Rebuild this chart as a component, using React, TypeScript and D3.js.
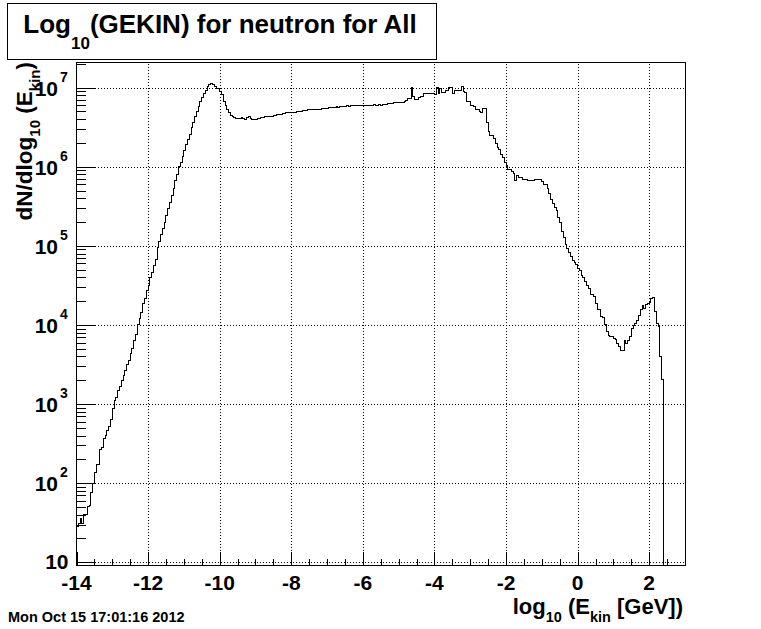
import React from 'react';
import * as d3 from 'd3';

const W = 761;
const H = 629;

// axis ranges
const xDomain: [number, number] = [-14, 3];
const yDomain: [number, number] = [9.1, 2.08e7];

// histogram binning
const binStart = -14;
const binWidth = 0.05;

// log10 of bin contents, bins of 0.05 starting at -14
const log10Counts = [
  1.45, 1.49, 1.55, 1.49, 1.61, 1.61, 1.71, 1.72, 1.88, 2.00, 2.13, 2.23, 2.23, 2.43, 2.45, 2.57, 2.60, 2.66, 2.72, 2.80,
  2.95, 3.04, 3.08, 3.17, 3.22, 3.30, 3.36, 3.43, 3.50, 3.55, 3.64, 3.70, 3.80, 3.88, 4.00, 4.08, 4.16, 4.27, 4.33, 4.44,
  4.50, 4.60, 4.66, 4.75, 4.83, 4.98, 5.05, 5.14, 5.22, 5.30, 5.38, 5.47, 5.55, 5.64, 5.72, 5.82, 5.90, 6.00, 6.06, 6.13,
  6.21, 6.28, 6.34, 6.41, 6.49, 6.56, 6.63, 6.70, 6.76, 6.82, 6.88, 6.92, 6.96, 7.01, 7.04, 7.05, 7.04, 7.02, 6.99, 6.99,
  6.95, 6.91, 6.83, 6.77, 6.73, 6.69, 6.65, 6.63, 6.62, 6.61, 6.61, 6.61, 6.62, 6.61, 6.60, 6.62, 6.63, 6.61, 6.60, 6.60,
  6.60, 6.61, 6.61, 6.62, 6.62, 6.63, 6.63, 6.63, 6.64, 6.64, 6.65, 6.65, 6.66, 6.66, 6.66, 6.67, 6.67, 6.68, 6.68, 6.68,
  6.69, 6.69, 6.69, 6.70, 6.70, 6.70, 6.71, 6.71, 6.71, 6.72, 6.72, 6.72, 6.72, 6.73, 6.73, 6.73, 6.73, 6.74, 6.74, 6.74,
  6.74, 6.75, 6.75, 6.75, 6.75, 6.76, 6.75, 6.76, 6.76, 6.76, 6.76, 6.77, 6.76, 6.77, 6.77, 6.77, 6.77, 6.77, 6.78, 6.77,
  6.78, 6.78, 6.78, 6.78, 6.78, 6.78, 6.79, 6.78, 6.78, 6.79,
  6.78, 6.79, 6.79, 6.79, 6.80, 6.80, 6.80, 6.81, 6.81, 6.81,
  6.81, 6.81, 6.81, 6.82, 6.84, 6.86, 6.86, 7.00, 6.89, 6.85,
  6.85, 6.88, 6.89, 6.89, 6.92, 6.92, 6.92, 6.93, 6.93, 6.93,
  6.91, 7.00, 6.93, 6.99, 6.94, 6.94, 6.97, 6.96, 7.00, 7.00,
  6.93, 6.97, 6.96, 6.96, 6.97, 7.02, 6.95, 6.94, 6.82, 6.82,
  6.78, 6.77, 6.76, 6.72, 6.72, 6.70, 6.69, 6.74, 6.74, 6.56,
  6.45, 6.40, 6.39, 6.36, 6.30, 6.24, 6.22, 6.16, 6.12, 6.06,
  6.02, 5.97, 5.96, 5.94, 5.92, 5.83, 5.89, 5.86, 5.86, 5.84,
  5.84, 5.84, 5.83, 5.83, 5.83, 5.83, 5.84, 5.84, 5.84, 5.84,
  5.81, 5.78, 5.78, 5.73, 5.66, 5.58, 5.53, 5.49, 5.45, 5.36,
  5.30, 5.18, 5.10, 5.02, 4.97, 4.91, 4.86, 4.82, 4.79, 4.76,
  4.71, 4.69, 4.63, 4.60, 4.55, 4.50, 4.46, 4.38, 4.38, 4.36,
  4.27, 4.20, 4.19, 4.11, 4.10, 4.00, 3.92, 3.87, 3.86, 3.85,
  3.83, 3.81, 3.76, 3.73, 3.68, 3.68, 3.80, 3.76, 3.80, 3.85,
  3.95, 3.99, 4.02, 4.06, 4.12, 4.20, 4.25, 4.21, 4.26, 4.27,
  4.29, 4.33, 4.35, 4.17, 4.02, 3.98, 3.60, 3.31,
];

const xMajorTicks = [-14, -12, -10, -8, -6, -4, -2, 0, 2];
const xTickLabels = ['-14', '-12', '-10', '-8', '-6', '-4', '-2', '0', '2'];
const xMinorStep = 0.5;
const yMajorExponents = [1, 2, 3, 4, 5, 6, 7];
const yMinorMultipliers = [2, 3, 4, 5, 6, 7, 8, 9];

const titleParts = { main: 'Log', sub: '10', rest: '(GEKIN) for neutron for All' };
const dateText = 'Mon Oct 15 17:01:16 2012';

const FONT = '"Liberation Sans", Arial, Helvetica, sans-serif';

export default function App() {
  const left = 76.5, right = 685, top = 62.5, bottom = 565.5;
  const x = d3.scaleLinear().domain(xDomain).range([left, right]);
  const y = d3.scaleLog().domain(yDomain).range([bottom, top]);

  // histogram outline path (ROOT style: from baseline, steps, back to baseline)
  let d = `M${x(binStart)},${bottom}`;
  log10Counts.forEach((v, i) => {
    const yy = y(Math.pow(10, v));
    d += `V${yy}H${x(binStart + (i + 1) * binWidth)}`;
  });
  d += `V${bottom}H${x(xDomain[1])}`;

  const xMinor: number[] = [];
  for (let t = xDomain[0]; t <= xDomain[1] + 1e-9; t += xMinorStep) {
    if (!xMajorTicks.some((m) => Math.abs(m - t) < 1e-9)) xMinor.push(t);
  }
  const yMinor: number[] = [];
  for (let e = 0; e <= 7; e++) {
    yMinorMultipliers.forEach((m) => {
      const v = m * Math.pow(10, e);
      if (v >= yDomain[0] && v <= yDomain[1]) yMinor.push(v);
    });
  }

  const xMajLen = 14, xMinLen = 7, yMajLen = 18, yMinLen = 9;

  return (
    <svg width={W} height={H} style={{ position: 'absolute', left: 0, top: 0, background: '#fff' }}
      fontFamily={FONT} fontWeight="bold">
      <rect x={0} y={0} width={W} height={H} fill="#fff" />

      {/* grid */}
      <g stroke="#000" strokeWidth={1} strokeDasharray="1,2" shapeRendering="crispEdges">
        {xMajorTicks.filter((t) => t > xDomain[0]).map((t) => (
          <line key={'gx' + t} x1={Math.round(x(t)) + 0.5} x2={Math.round(x(t)) + 0.5} y1={bottom} y2={top} />
        ))}
        {yMajorExponents.map((e) => {
          const yy = Math.round(y(Math.pow(10, e))) + 0.5;
          return <line key={'gy' + e} x1={left} x2={right} y1={yy} y2={yy} />;
        })}
      </g>

      {/* histogram */}
      <path d={d} fill="none" stroke="#000" strokeWidth={1} shapeRendering="crispEdges" />

      {/* frame */}
      <rect x={left} y={top} width={right - left} height={bottom - top} fill="none" stroke="#000"
        strokeWidth={1} shapeRendering="crispEdges" />

      {/* ticks */}
      <g stroke="#000" strokeWidth={1} shapeRendering="crispEdges">
        {xMajorTicks.map((t) => (
          <line key={'xt' + t} x1={Math.round(x(t)) + 0.5} x2={Math.round(x(t)) + 0.5} y1={bottom} y2={bottom - xMajLen} />
        ))}
        {xMinor.map((t) => (
          <line key={'xm' + t} x1={Math.round(x(t)) + 0.5} x2={Math.round(x(t)) + 0.5} y1={bottom} y2={bottom - xMinLen} />
        ))}
        {yMajorExponents.map((e) => {
          const yy = Math.round(y(Math.pow(10, e))) + 0.5;
          return <line key={'yt' + e} x1={left} x2={left + yMajLen} y1={yy} y2={yy} />;
        })}
        {yMinor.map((v) => {
          const yy = Math.round(y(v)) + 0.5;
          return <line key={'ym' + v} x1={left} x2={left + yMinLen} y1={yy} y2={yy} />;
        })}
      </g>

      {/* x tick labels */}
      {xMajorTicks.map((t, i) => (
        <text key={'xl' + t} x={x(t)} y={589.5} fontSize={21} textAnchor="middle">{xTickLabels[i]}</text>
      ))}

      {/* y tick labels */}
      {yMajorExponents.map((e) => {
        const yy = y(Math.pow(10, e));
        if (e === 1) {
          return <text key={'yl' + e} x={68.5} y={yy + 6.5} fontSize={21} textAnchor="end">10</text>;
        }
        return (
          <g key={'yl' + e}>
            <text x={58} y={yy + 8} fontSize={21} textAnchor="end">10</text>
            <text x={60} y={yy - 6} fontSize={14} textAnchor="start">{String(e)}</text>
          </g>
        );
      })}

      {/* x title */}
      <text x={683} y={614} fontSize={22} textAnchor="end">
        <tspan>log</tspan>
        <tspan fontSize={14.5} dy={8}>10</tspan>
        <tspan dy={-8}> (E</tspan>
        <tspan fontSize={14.5} dy={8}>kin</tspan>
        <tspan dy={-8}> [GeV])</tspan>
      </text>

      {/* y title */}
      <text transform={`translate(32,62) rotate(-90)`} x={0} y={0} fontSize={22.5} textAnchor="end">
        <tspan>dN/dlog</tspan>
        <tspan fontSize={15} dy={8}>10</tspan>
        <tspan dy={-8}> (E</tspan>
        <tspan fontSize={15} dy={8}>kin</tspan>
        <tspan dy={-8}>)</tspan>
      </text>

      {/* title box */}
      <rect x={7.5} y={3.5} width={429} height={56} fill="#fff" stroke="#000" strokeWidth={1}
        shapeRendering="crispEdges" />
      <text x={23.3} y={33} fontSize={26} >
        <tspan>{titleParts.main}</tspan>
        <tspan fontSize={17} dy={16}>{titleParts.sub}</tspan>
        <tspan dy={-16}>{titleParts.rest}</tspan>
      </text>

      {/* date */}
      <text x={8} y={621.5} fontSize={14.5}>{dateText}</text>
    </svg>
  );
}
